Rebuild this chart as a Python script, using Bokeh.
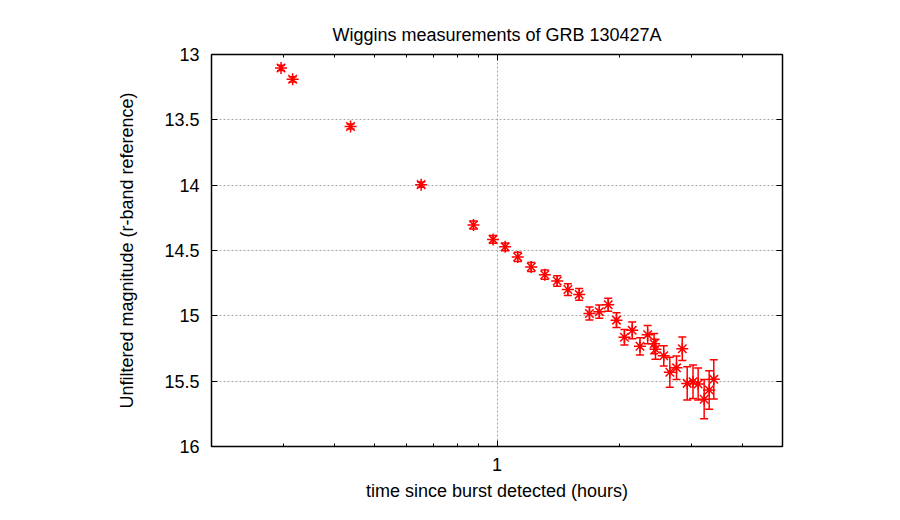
from bokeh.plotting import figure
from bokeh.models import (Range1d, FixedTicker, LogAxis, LinearAxis, Whisker,
                          TeeHead, ColumnDataSource)
from bokeh.embed import file_html
from bokeh.resources import INLINE

# ---- data ----
time_hours = [0.296, 0.316, 0.438, 0.652, 0.876, 0.978, 1.047, 1.124, 1.213,
              1.309, 1.404, 1.491, 1.589, 1.684, 1.780, 1.872, 1.961, 2.051,
              2.143, 2.239, 2.338, 2.425, 2.443, 2.560, 2.649, 2.751, 2.842,
              2.922, 3.019, 3.108, 3.215, 3.307, 3.394]
magnitude = [13.103, 13.190, 13.551, 13.996, 14.305, 14.415, 14.472, 14.549,
             14.626, 14.685, 14.733, 14.799, 14.836, 14.982, 14.968, 14.915,
             15.033, 15.164, 15.111, 15.233, 15.144, 15.213, 15.256, 15.306,
             15.432, 15.398, 15.252, 15.517, 15.505, 15.522, 15.638, 15.568,
             15.486]
mag_error = [0.02, 0.02, 0.02, 0.02, 0.03, 0.03, 0.03, 0.035, 0.035, 0.035,
             0.04, 0.045, 0.045, 0.05, 0.05, 0.05, 0.057, 0.06, 0.064, 0.066,
             0.07, 0.077, 0.077, 0.077, 0.115, 0.09, 0.09, 0.128, 0.128, 0.123,
             0.15, 0.147, 0.15]

x_major_ticks = [1]
x_major_labels = ["1"]
x_minor_ticks = [0.2, 0.3, 0.4, 0.5, 0.6, 0.7, 0.8, 0.9, 2, 3, 4, 5]
y_ticks = [13, 13.5, 14, 14.5, 15, 15.5, 16]
y_tick_labels = ["13", "13.5", "14", "14.5", "15", "15.5", "16"]

title_text = "Wiggins measurements of GRB 130427A"
x_label = "time since burst detected (hours)"
y_label = "Unfiltered magnitude (r-band reference)"

FONT = "Liberation Sans"
FS = "18px"

src = ColumnDataSource(dict(
    t=time_hours, m=magnitude,
    lo=[m - e for m, e in zip(magnitude, mag_error)],
    hi=[m + e for m, e in zip(magnitude, mag_error)],
))

p = figure(width=900, height=520, output_backend="svg", toolbar_location=None,
           x_axis_type="log", x_range=Range1d(0.2, 5), y_range=Range1d(16, 13),
           min_border_left=211, min_border_right=118, min_border_top=54,
           min_border_bottom=74)

p.background_fill_color = "#ffffff"
p.border_fill_color = "#ffffff"
p.outline_line_color = "#000000"
p.outline_line_width = 1.5

p.title.text = title_text
p.title.align = "center"
p.title.vertical_align = "bottom"
p.title.text_font = FONT
p.title.text_font_size = FS
p.title.text_font_style = "normal"
p.title.text_color = "#000000"
p.title.standoff = 10
try:
    p.title.padding = (0, 0, 0, 5)
except Exception:
    p.title.text_line_height = 1.8

xt = FixedTicker(ticks=x_major_ticks, minor_ticks=x_minor_ticks)
yt = FixedTicker(ticks=y_ticks, minor_ticks=[])

def style_axis(ax, ticker, show_labels):
    ax.ticker = ticker
    ax.axis_line_color = None
    ax.major_tick_in = 6
    ax.major_tick_out = 0
    ax.minor_tick_in = 3
    ax.minor_tick_out = 0
    ax.major_tick_line_color = "#000000"
    ax.minor_tick_line_color = "#000000"
    ax.major_label_text_font = FONT
    ax.major_label_text_font_size = FS if show_labels else "0px"
    ax.major_label_text_color = "#000000" if show_labels else None
    ax.axis_label_text_font = FONT
    ax.axis_label_text_font_size = FS
    ax.axis_label_text_font_style = "normal"
    ax.axis_label_text_color = "#000000"

xa = p.xaxis[0]
style_axis(xa, xt, True)
xa.axis_label = x_label
xa.major_label_overrides = {k: v for k, v in zip(x_major_ticks, x_major_labels)}
xa.major_label_standoff = 11
xa.axis_label_standoff = 7

ya = p.yaxis[0]
style_axis(ya, yt, True)
ya.axis_label = y_label
ya.major_label_overrides = {k: v for k, v in zip(y_ticks, y_tick_labels)}
ya.major_label_standoff = 12
ya.axis_label_standoff = 24

top = LogAxis()
style_axis(top, xt, False)
p.add_layout(top, "above")
right = LinearAxis()
style_axis(right, yt, False)
p.add_layout(right, "right")

for g in (p.xgrid[0], p.ygrid[0]):
    g.grid_line_color = "#a8a8a8"
    g.grid_line_dash = "2 2"
    g.grid_line_width = 1

w = Whisker(base="t", lower="lo", upper="hi", source=src, dimension="height",
            line_color="#ff0000", line_width=1.5,
            upper_head=TeeHead(size=8, line_color="#ff0000", line_width=1.5),
            lower_head=TeeHead(size=8, line_color="#ff0000", line_width=1.5))
p.add_layout(w)

p.scatter("t", "m", source=src, marker="asterisk", size=12,
          line_color="#ff0000", line_width=1.5)

open("out.html", "w").write(file_html(p, INLINE))
